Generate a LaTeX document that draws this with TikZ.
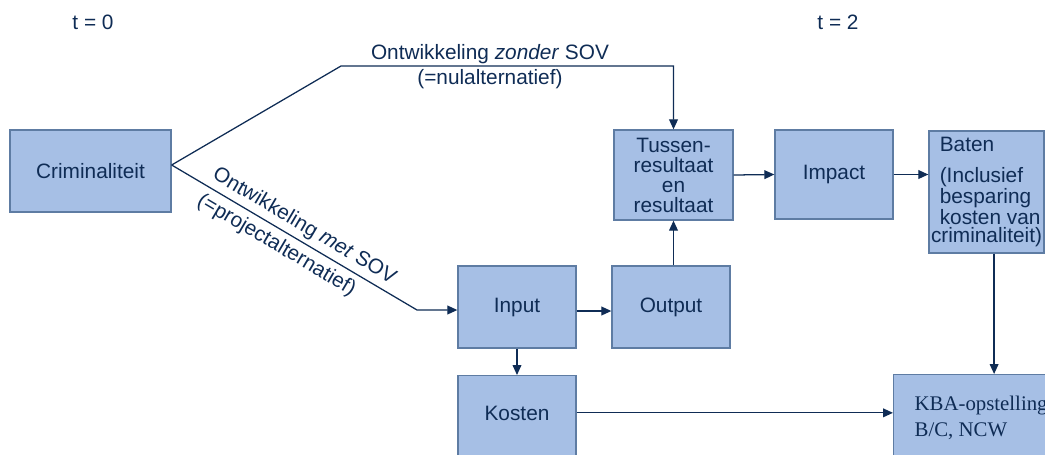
\documentclass[tikz,border=0pt]{standalone}
\usepackage{fontspec}
\setmainfont{Liberation Sans}
\newfontfamily\timesfont{Liberation Serif}
\usetikzlibrary{arrows.meta}
\definecolor{blokvul}{HTML}{A6BFE5}
\definecolor{bloklijn}{HTML}{5E7CA3}
\definecolor{donkerblauw}{HTML}{0F2C55}
\tikzset{
	blok/.style={draw=bloklijn, fill=blokvul, line width=0.9pt, text=donkerblauw, font=\fontsize{14.8}{14.2}\selectfont},
	tekst/.style={text=donkerblauw, font=\fontsize{14.8}{14.2}\selectfont, inner sep=1pt},
	pijl/.style={draw=donkerblauw, line width=0.9pt, -{Triangle[length=0.25cm,width=0.22cm]}},
}

\begin{document}
\begin{tikzpicture}[x=0.025cm, y=-0.025cm]
		\useasboundingbox (0,0) rectangle (1045,454);
		\clip (0,0) rectangle (1045,454);
		\node[tekst] (tnul) at (93,22) {t = 0};
		\node[tekst] (ttwee) at (838,22) {t = 2};
		\node[blok, minimum width=4.025cm, minimum height=2.05cm] (crim) at (90.5,171) {Criminaliteit};
		\node[blok, align=center, minimum width=2.975cm, minimum height=2.25cm] (tussen) at (673.5,175) {Tussen-\\resultaat\\en\\resultaat};
		\node[blok, minimum width=2.95cm, minimum height=2.225cm] (impact) at (834,174.5) {Impact};
		\node[blok, align=left, inner xsep=0pt, minimum width=2.875cm, minimum height=3.05cm, font=\fontsize{14.8}{12.8}\selectfont] (baten) at (986.5,192) {\hspace*{0.22cm}Baten\\[9.5pt]\hspace*{0.22cm}(Inclusief\\\hspace*{0.22cm}besparing\\\hspace*{0.22cm}kosten van\\criminaliteit)};
		\node[blok, minimum width=2.95cm, minimum height=2.05cm] (input) at (517,307) {Input};
		\node[blok, minimum width=2.95cm, minimum height=2.05cm] (output) at (671,307) {Output};
		\node[blok, anchor=north, minimum width=2.95cm, minimum height=2.1cm, text depth=0.2cm] (kosten) at (517,375) {Kosten};
		\node[blok, anchor=north west, align=left, minimum width=4.3cm, inner xsep=0.525cm, inner ysep=0.54cm, font=\timesfont\fontsize{14.8}{18.5}\selectfont] (kba) at (893,374) {KBA-opstelling\\B/C, NCW};
		% splitsing bij criminaliteit
		\coordinate (splits) at ([yshift=0.15cm]crim.east);
		\coordinate (knikboven) at (341,66);
		\coordinate (knikonder) at (417,310);
		\draw[pijl] (splits) -- (knikboven) -| (tussen.north)
			node[tekst, pos=0.224, above=0pt] (zonder) {Ontwikkeling \textit{zonder} SOV}
			node[tekst, pos=0.224, below=1pt] (nul) {(=nulalternatief)};
		\draw[pijl] (splits) -- (knikonder)
			node[tekst, pos=0.51, sloped, above=2pt] (met) {Ontwikkeling \textit{met} SOV}
			node[tekst, pos=0.46, sloped, below=3pt] (project) {(=projectalternatief)}
			-- (input.west |- knikonder);
		\draw[pijl] ([yshift=-0.1cm]input.east) -- ([yshift=-0.1cm]output.west);
		\draw[pijl] (output.north -| tussen.south) -- (tussen.south);
		\draw[pijl] (tussen.east) -- (impact.west);
		\draw[pijl] (impact.east) -- (impact.east -| baten.west);
		\draw[pijl] ([xshift=0.19cm]baten.south) -- ([xshift=0.19cm]baten.south |- kba.north);
		\draw[pijl] (input.south) -- (kosten.north);
		\draw[pijl] ([yshift=0.12cm]kosten.east) -- ([yshift=0.12cm]kosten.east -| kba.west);
	\end{tikzpicture}
\end{document}
